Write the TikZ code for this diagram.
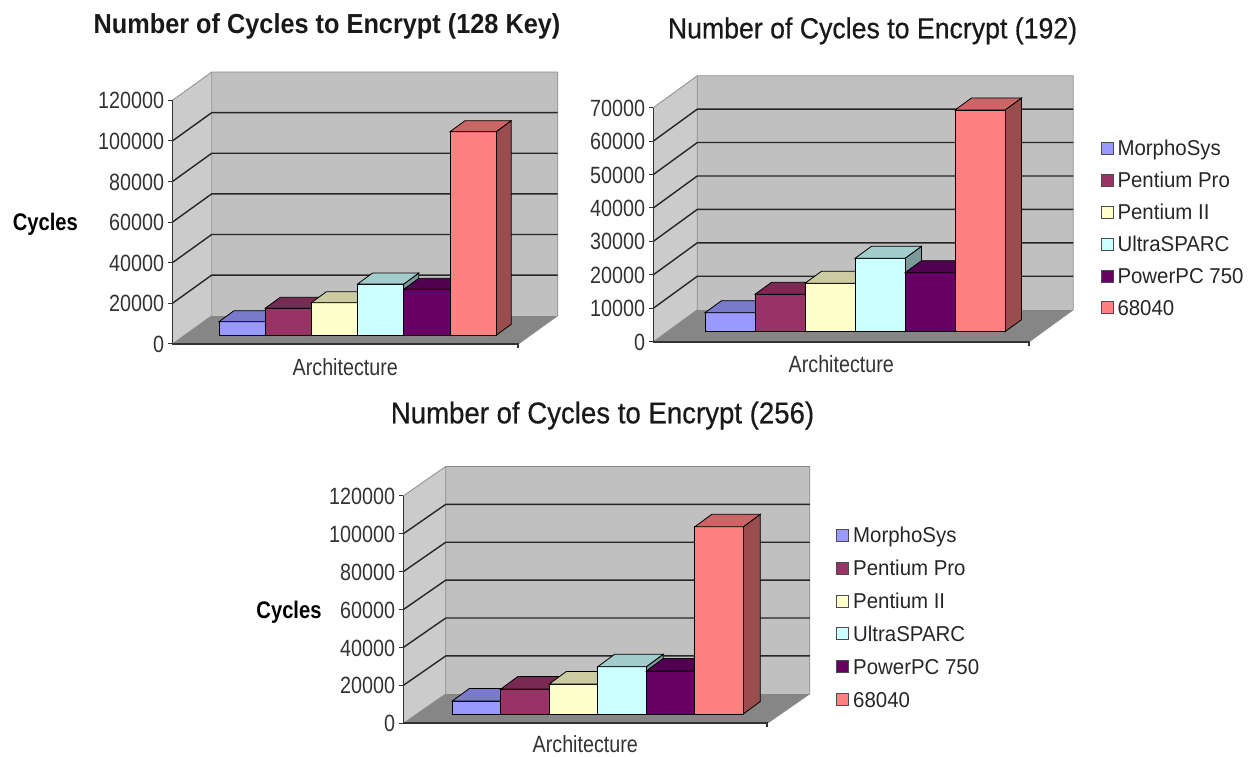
\documentclass[tikz,border=0pt]{standalone}
\usepackage{fontspec}
\setmainfont{Liberation Sans}
\newfontfamily\headfont{Liberation Sans}[FakeStretch=0.92]
\newfontfamily\midfont{Liberation Sans}[FakeStretch=0.92,FakeBold=0.5]
\newfontfamily\axisfont{Liberation Sans}[FakeStretch=0.84]
\newfontfamily\legfont{Liberation Sans}[FakeStretch=0.95]
\usetikzlibrary{positioning}

\definecolor{morpho}{HTML}{9999FF}
\definecolor{ppro}{HTML}{993366}
\definecolor{pii}{HTML}{FFFFCC}
\definecolor{usparc}{HTML}{CCFFFF}
\definecolor{ppc}{HTML}{660066}
\definecolor{m68}{HTML}{FF8080}
\definecolor{wallgray}{HTML}{C0C0C0}
\definecolor{sidegray}{HTML}{CBCBCB}
\definecolor{floorgray}{HTML}{868686}

\tikzset{
  chart title/.style={font=\midfont\fontsize{29}{31}\selectfont, text=black!90, anchor=base, inner sep=0pt},
  ticklab/.style={font=\axisfont\fontsize{23.5}{25}\selectfont, text=black!80, anchor=east,
    inner sep=0pt, text height=17pt, text depth=0pt},
  xtitle/.style={font=\axisfont\fontsize{23.5}{25}\selectfont, text=black!80, inner sep=0pt,
    text height=17pt, text depth=0pt},
  ytitle/.style={font=\axisfont\bfseries\fontsize{24}{26}\selectfont, inner sep=0pt,
    text height=17pt, text depth=0pt},
  grid line/.style={line width=1.4pt, black!85},
  wall edge/.style={line width=0.8pt, black!45},
  axis line/.style={line width=1pt, black!80},
  floor edge/.style={line width=1.8pt, black!80},
  barline/.style={line width=0.8pt, black},
  legbox/.style={draw=black!70, line width=0.6pt, minimum size=12pt, inner sep=0pt},
  legtext/.style={font=\legfont\fontsize{21.5}{23}\selectfont, text=black!85, inner sep=0pt,
    text height=15pt, text depth=0pt},
}

% #1/#2 depth, #3 floor width, #4 grid step, #5 steps, #6 tick labels
\newcommand{\chartframe}[6]{%
  \fill[floorgray] (0,0) -- (#1,#2) -- ({#1+#3},#2) -- (#3,0) -- cycle;
  \fill[sidegray] (0,0) -- (#1,#2) -- (#1,{#2+#5*#4}) -- (0,{#5*#4}) -- cycle;
  \fill[wallgray] (#1,#2) rectangle ({#1+#3},{#2+#5*#4});
  \draw[wall edge] (0,{#5*#4}) -- (#1,{#2+#5*#4}) -- ({#1+#3},{#2+#5*#4}) -- ({#1+#3},#2) -- (#3,0);
  \draw[wall edge] (#1,{#2+#5*#4}) -- (#1,#2) -- (0,0);
  \pgfmathtruncatemacro\lastk{#5-1}
  \foreach \k in {1,...,\lastk}
    \draw[grid line] (0,{\k*#4}) -- (#1,{#2+\k*#4}) -- ({#1+#3},{#2+\k*#4});
  \foreach \lab [count=\k from 0] in {#6} {
    \draw[axis line] (0,{\k*#4}) -- ++(-4,0);
    \node[ticklab] (tick\k) at (-8,{\k*#4}) {\lab};
  }
  \draw[axis line] (0,{#5*#4}) -- (0,0);
  \draw[floor edge] (0,0) -- (#3,0) -- ++(0,-4);
}

% #1 left, #2 width, #3 base, #4 height, #5/#6 depth, #7 colour
\newcommand{\cube}[7]{%
  \filldraw[barline, fill=#7!60!black] ({#1+#2},#3) -- ++(#5,#6) -- ++(0,#4) -- ++(-#5,-#6) -- cycle;
  \filldraw[barline, fill=#7] (#1,#3) rectangle ++(#2,#4);
  \filldraw[barline, fill=#7!80!black] (#1,{#3+#4}) -- ++(#2,0) -- ++(#5,#6) -- ++(-#2,0) -- cycle;
}

\begin{document}
\begin{tikzpicture}[x=1pt,y=1pt]
\fill[white] (0,0) rectangle (1250,756);
\useasboundingbox (0,0) rectangle (1250,756);

\begin{scope}[shift={(172.3,412)}, name prefix=c1-]
  \chartframe{39.4}{28.3}{346}{40.6}{6}{0,20000,40000,60000,80000,100000,120000}
  \foreach \col/\val [count=\n from 0] in {morpho/6.7,ppro/13.3,pii/16.06,usparc/25.27,ppc/22.66,m68/100.3}
    {\cube{46.7+\n*46.2}{46.2}{8.7}{\val*2.03}{15}{11}{\col}}
  \node[chart title, font=\headfont\bfseries\fontsize{27.5}{30}\selectfont] (title) at (154.7,310.7)
    {Number of Cycles to Encrypt (128 Key)};
  \node[ytitle] (ytitle) at (-127,121.8) {Cycles};
  \node[xtitle] (xtitle) at (173,-22.5) {Architecture};
\end{scope}

\begin{scope}[shift={(653.3,414.3)}, name prefix=c2-]
  \chartframe{44}{32}{376}{33.43}{7}{0,10000,20000,30000,40000,50000,60000,70000}
  \foreach \col/\val [count=\n from 0] in {morpho/5.68,ppro/11.19,pii/14.48,usparc/21.96,ppc/17.65,m68/66.32}
    {\cube{51.7+\n*50}{50}{10}{\val*3.343}{16.5}{12}{\col}}
  \node[chart title] (title) at (219.2,303.4) {Number of Cycles to Encrypt (192)};
  \node[xtitle] (xtitle) at (188,-22.5) {Architecture};
\end{scope}

\begin{scope}[shift={(403.3,32.7)}, name prefix=c3-]
  \chartframe{42.5}{29.5}{364}{37.9}{6}{0,20000,40000,60000,80000,100000,120000}
  \foreach \col/\val [count=\n from 0] in {morpho/6.86,ppro/13.19,pii/15.83,usparc/24.96,ppc/22.69,m68/98.8}
    {\cube{49+\n*48.5}{48.5}{9.3}{\val*1.895}{17}{12.5}{\col}}
  \node[chart title, font=\midfont\fontsize{30}{32}\selectfont] (title) at (199.2,300)
    {Number of Cycles to Encrypt (256)};
  \node[ytitle] (ytitle) at (-114.3,113.7) {Cycles};
  \node[xtitle] (xtitle) at (182,-20.5) {Architecture};
\end{scope}

\foreach \col/\lab [count=\n] in {morpho/MorphoSys,ppro/Pentium Pro,pii/Pentium II,usparc/UltraSPARC,ppc/PowerPC 750,m68/68040} {
  \node[legbox, fill=\col] (boxb\n) at (1107,{607.7-(\n-1)*31.9}) {};
  \node[legtext, right=4pt of boxb\n] (keyb\n) {\lab};
  \node[legbox, fill=\col] (boxc\n) at (842.7,{221-(\n-1)*32.9}) {};
  \node[legtext, right=4pt of boxc\n] (keyc\n) {\lab};
}
\end{tikzpicture}
\end{document}
